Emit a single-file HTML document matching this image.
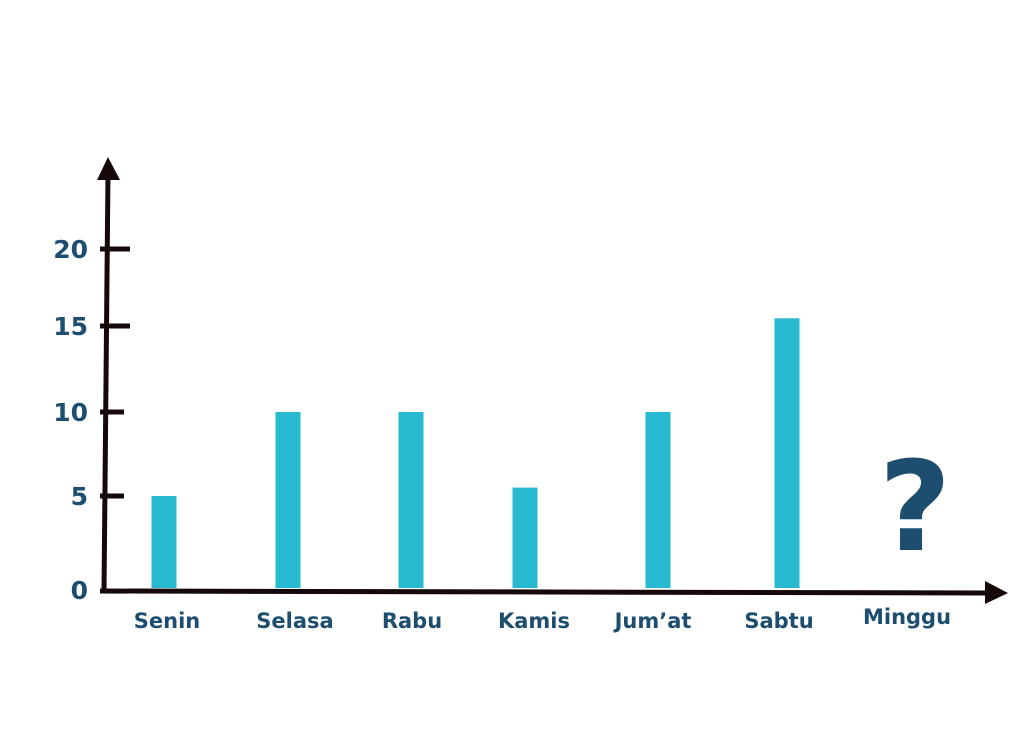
<!DOCTYPE html>
<html><head><meta charset="utf-8"><style>
html,body{margin:0;padding:0;background:#fff;}
svg{display:block;}
text{font-family:"DejaVu Sans","Liberation Sans",sans-serif;font-weight:bold;fill:#1d4e6f;}
</style></head><body>
<svg id="chart" width="1024" height="731" viewBox="0 0 1024 731" xmlns="http://www.w3.org/2000/svg">
<g id="axes">
  <line x1="104" y1="592" x2="108" y2="172" stroke="#150909" stroke-width="5"/>
  <polygon points="97,180 108,157 120,180" fill="#150909"/>
  <line x1="100" y1="591" x2="990" y2="593" stroke="#150909" stroke-width="5"/>
  <polygon points="985,581 1008,593 985,604" fill="#150909"/>
</g>
<g id="ticks"></g>
<g id="bars"></g>
<g id="xlabels"></g>
<text x="915" y="550" font-size="125" text-anchor="middle">?</text>
</svg>
<script>
const categories = ["Senin","Selasa","Rabu","Kamis","Jum’at","Sabtu","Minggu"];
const values = [5, 10, 10, 5.5, 10, 15.5, null];
const tickValues = [0, 5, 10, 15, 20];
const tickLabels = ["0","5","10","15","20"];
const NS = "http://www.w3.org/2000/svg";
const yAnchorV = [0, 5, 10, 15, 20];
const yAnchorP = [590, 496, 412, 326, 249];
function y(v){
  for(let i=0;i<yAnchorV.length-1;i++){
    if(v<=yAnchorV[i+1]||i===yAnchorV.length-2){
      const t=(v-yAnchorV[i])/(yAnchorV[i+1]-yAnchorV[i]);
      return yAnchorP[i]+t*(yAnchorP[i+1]-yAnchorP[i]);
    }
  }
}
const catX = [164, 288, 411, 525, 658, 787, 907];
const labelX = [167, 295, 412, 534, 653, 779, 907];
function x(i){ return catX[i]; }
const ticks=document.getElementById('ticks');
tickValues.forEach((v,i)=>{
  const yy=y(v);
  if(v>0){
    const l=document.createElementNS(NS,'line');
    
    
    l.setAttribute('x1',100);l.setAttribute('x2',v>=15?130:124);
    l.setAttribute('y1',yy);l.setAttribute('y2',yy);
    l.setAttribute('stroke','#150909');l.setAttribute('stroke-width',5);
    ticks.appendChild(l);
  }
  const t=document.createElementNS(NS,'text');
  
  
  t.setAttribute('x',88);t.setAttribute('y',yy+9);
  t.setAttribute('text-anchor','end');t.setAttribute('font-size',25);
  t.textContent=tickLabels[i];
  ticks.appendChild(t);
});
const bars=document.getElementById('bars');
const xl=document.getElementById('xlabels');
categories.forEach((c,i)=>{
  if(values[i]!=null){
    const r=document.createElementNS(NS,'rect');
    
    
    const top=y(values[i]);
    r.setAttribute('x',x(i)-12.5);r.setAttribute('width',25);
    r.setAttribute('y',top);r.setAttribute('height',588-top);
    r.setAttribute('fill','#26b9d0');
    bars.appendChild(r);
  }
  const t=document.createElementNS(NS,'text');
  
  
  t.setAttribute('x',labelX[i]);t.setAttribute('y',i===6?624:628);
  t.setAttribute('text-anchor','middle');t.setAttribute('font-size',21);
  t.textContent=c;
  xl.appendChild(t);
});
</script>
</body></html>
